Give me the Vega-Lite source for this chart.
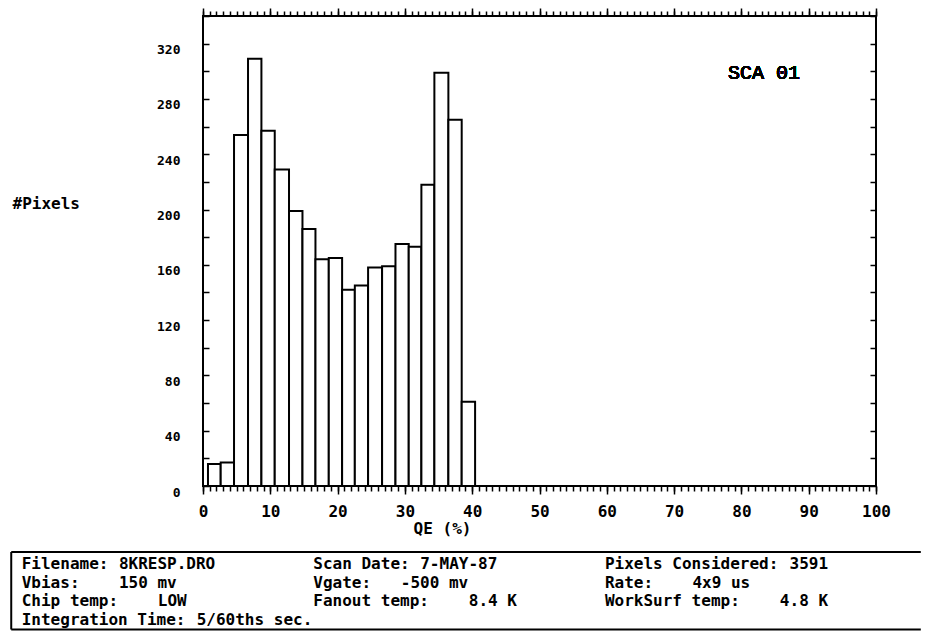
{
  "$schema": "https://vega.github.io/schema/vega-lite/v6.json",
  "padding": {"left": 10, "top": 6, "right": 4, "bottom": 0},
  "background": "white",
  "config": {
    "view": {"stroke": "black", "strokeWidth": 2},
    "axis": {"grid": false, "domain": false, "tickColor": "black", "labelColor": "black", "titleColor": "black", "tickWidth": 1.5, "zindex": 1}
  },
  "datasets": {
    "hist": [
      {"qe_lo": 0.74, "qe_hi": 2.63, "pixels": 16},
      {"qe_lo": 2.63, "qe_hi": 4.61, "pixels": 17},
      {"qe_lo": 4.61, "qe_hi": 6.69, "pixels": 254},
      {"qe_lo": 6.69, "qe_hi": 8.68, "pixels": 309},
      {"qe_lo": 8.68, "qe_hi": 10.66, "pixels": 257},
      {"qe_lo": 10.66, "qe_hi": 12.78, "pixels": 229},
      {"qe_lo": 12.78, "qe_hi": 14.78, "pixels": 199},
      {"qe_lo": 14.78, "qe_hi": 16.71, "pixels": 186},
      {"qe_lo": 16.71, "qe_hi": 18.69, "pixels": 164},
      {"qe_lo": 18.69, "qe_hi": 20.67, "pixels": 165},
      {"qe_lo": 20.67, "qe_hi": 22.56, "pixels": 142},
      {"qe_lo": 22.56, "qe_hi": 24.53, "pixels": 145},
      {"qe_lo": 24.53, "qe_hi": 26.61, "pixels": 158},
      {"qe_lo": 26.61, "qe_hi": 28.6, "pixels": 159},
      {"qe_lo": 28.6, "qe_hi": 30.57, "pixels": 175},
      {"qe_lo": 30.57, "qe_hi": 32.45, "pixels": 173},
      {"qe_lo": 32.45, "qe_hi": 34.38, "pixels": 218},
      {"qe_lo": 34.38, "qe_hi": 36.46, "pixels": 299},
      {"qe_lo": 36.46, "qe_hi": 38.44, "pixels": 265},
      {"qe_lo": 38.44, "qe_hi": 40.43, "pixels": 61}
    ],
    "info": [
      {"col": 0, "line": 1, "text": "Filename:"},
      {"col": 10, "line": 1, "text": "8KRESP.DRO"},
      {"col": 30, "line": 1, "text": "Scan Date:"},
      {"col": 41, "line": 1, "text": "7-MAY-87"},
      {"col": 60, "line": 1, "text": "Pixels Considered:"},
      {"col": 79, "line": 1, "text": "3591"},
      {"col": 0, "line": 2, "text": "Vbias:"},
      {"col": 10, "line": 2, "text": "150 mv"},
      {"col": 30, "line": 2, "text": "Vgate:"},
      {"col": 39, "line": 2, "text": "-500 mv"},
      {"col": 60, "line": 2, "text": "Rate:"},
      {"col": 69, "line": 2, "text": "4x9 us"},
      {"col": 0, "line": 3, "text": "Chip temp:"},
      {"col": 14, "line": 3, "text": "LOW"},
      {"col": 30, "line": 3, "text": "Fanout temp:"},
      {"col": 46, "line": 3, "text": "8.4 K"},
      {"col": 60, "line": 3, "text": "WorkSurf temp:"},
      {"col": 78, "line": 3, "text": "4.8 K"},
      {"col": 0, "line": 4, "text": "Integration Time:"},
      {"col": 18, "line": 4, "text": "5/60ths sec."}
    ],
    "frame": [
      {"c1": -1.08, "c2": 92.5, "l1": 0.35, "l2": 0.35},
      {"c1": -1.08, "c2": -1.08, "l1": 0.35, "l2": 4.54},
      {"c1": -1.08, "c2": 92.5, "l1": 4.54, "l2": 4.54}
    ]
  },
  "spacing": 14,
  "vconcat": [
    {
      "width": 673,
      "height": 470,
      "data": {"name": "hist"},
      "resolve": {"axis": {"x": "independent", "y": "independent"}},
      "layer": [
        {
          "mark": {"type": "rect", "fill": "white", "stroke": "black", "strokeWidth": 2},
          "encoding": {
            "x": {"field": "qe_lo", "type": "quantitative", "scale": {"domain": [0, 100], "nice": false, "zero": false},
                  "axis": {"orient": "bottom", "tickCount": 100, "tickSize": 5, "labels": false, "title": null}},
            "x2": {"field": "qe_hi"},
            "y": {"field": "pixels", "type": "quantitative", "scale": {"domain": [0, 340], "nice": false},
                  "axis": {"orient": "left", "tickCount": 17, "tickSize": -6, "labels": false, "title": null}},
            "y2": {"datum": 0}
          }
        },
        {
          "mark": {"type": "rect", "opacity": 0},
          "encoding": {
            "x": {"field": "qe_lo", "type": "quantitative",
                  "axis": {"orient": "bottom", "tickCount": 10, "tickSize": 8, "labels": false, "title": null}},
            "x2": {"field": "qe_hi"},
            "y": {"field": "pixels", "type": "quantitative",
                  "axis": {"orient": "right", "tickCount": 17, "tickSize": -6, "labels": false, "title": null}},
            "y2": {"datum": 0}
          }
        },
        {
          "mark": {"type": "rect", "opacity": 0},
          "encoding": {
            "x": {"field": "qe_lo", "type": "quantitative",
                  "axis": {"orient": "bottom", "tickCount": 10, "ticks": false, "labelPadding": 17, "labelBaseline": "top",
                           "labelFlush": false, "labelOverlap": false,
                           "labelFont": "DejaVu Sans Mono", "labelFontWeight": "bold", "labelFontSize": 16,
                           "title": "QE (%)", "titleFont": "DejaVu Sans Mono", "titleFontWeight": "bold", "titleFontSize": 16,
                           "titleX": 239, "titleY": 34, "titleAlign": "center", "titleBaseline": "top", "titleAnchor": null}},
            "x2": {"field": "qe_hi"},
            "y": {"field": "pixels", "type": "quantitative",
                  "axis": {"orient": "left", "values": [0, 40, 80, 120, 160, 200, 240, 280, 320], "ticks": false,
                           "labelPadding": 23, "labelBaseline": "top", "labelOverlap": false,
                           "labelFont": "DejaVu Sans Mono", "labelFontWeight": "bold", "labelFontSize": 13,
                           "title": "#Pixels", "titleAngle": 0, "titleX": -191, "titleY": 187, "titleAlign": "left", "titleBaseline": "middle",
                           "titleFont": "DejaVu Sans Mono", "titleFontWeight": "bold", "titleFontSize": 16}},
            "y2": {"datum": 0}
          }
        },
        {
          "mark": {"type": "rect", "opacity": 0},
          "encoding": {
            "x": {"field": "qe_lo", "type": "quantitative",
                  "axis": {"orient": "top", "tickCount": 100, "tickSize": 5, "labels": false, "title": null}},
            "x2": {"field": "qe_hi"},
            "y": {"field": "pixels", "type": "quantitative", "axis": null},
            "y2": {"datum": 0}
          }
        },
        {
          "mark": {"type": "text", "text": "SCA 01", "align": "left", "baseline": "middle", "font": "Liberation Mono", "fontWeight": "normal", "fontSize": 20, "color": "black"},
          "encoding": {
            "x": {"datum": 78, "type": "quantitative",
                  "axis": {"orient": "top", "tickCount": 10, "tickSize": 8, "labels": false, "title": null}},
            "y": {"datum": 299, "type": "quantitative", "axis": null}
          }
        }
      ]
    },
    {
      "width": 673,
      "height": 77.5,
      "view": {"stroke": null},
      "layer": [
        {
          "data": {"name": "frame"},
          "mark": {"type": "rule", "stroke": "black", "strokeWidth": 2},
          "encoding": {
            "x": {"field": "c1", "type": "quantitative", "scale": {"domain": [18.65, 87.89], "nice": false, "zero": false}, "axis": null},
            "x2": {"field": "c2"},
            "y": {"field": "l1", "type": "quantitative", "scale": {"domain": [0.35, 4.54], "nice": false, "zero": false, "reverse": true}, "axis": null},
            "y2": {"field": "l2"}
          }
        },
        {
          "data": {"name": "info"},
          "mark": {"type": "text", "align": "left", "baseline": "middle", "font": "DejaVu Sans Mono", "fontWeight": "bold", "fontSize": 16, "color": "black"},
          "encoding": {
            "x": {"field": "col", "type": "quantitative", "axis": null},
            "y": {"field": "line", "type": "quantitative", "axis": null},
            "text": {"field": "text"}
          }
        }
      ]
    }
  ]
}
